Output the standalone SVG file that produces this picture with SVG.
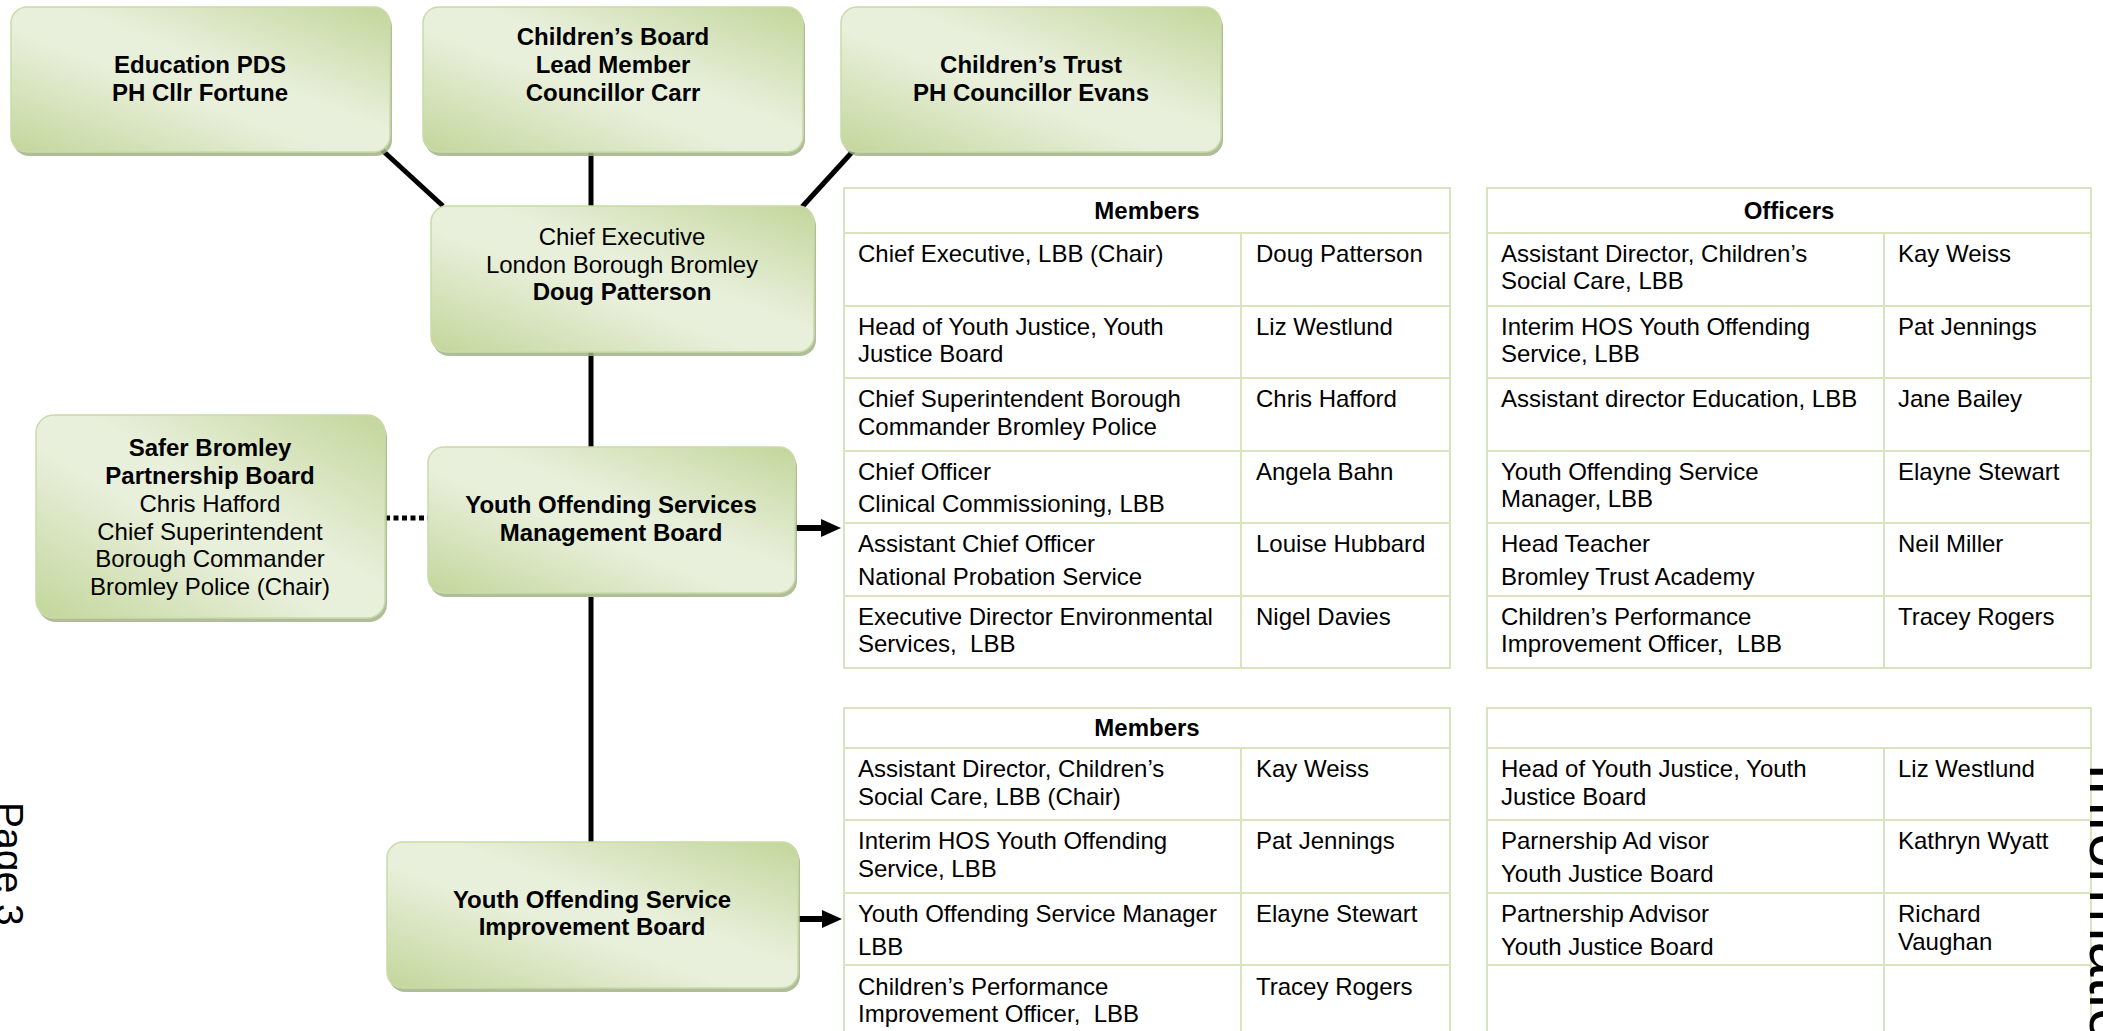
<svg xmlns="http://www.w3.org/2000/svg" width="2103" height="1031" viewBox="0 0 2103 1031">
<defs>
<linearGradient id="gr" x1="1" y1="0" x2="0" y2="1">
<stop offset="0" stop-color="#c3d69b"/>
<stop offset="0.42" stop-color="#e8efda"/>
<stop offset="0.58" stop-color="#e8efda"/>
<stop offset="1" stop-color="#c3d69b"/>
</linearGradient>
<marker id="ah" markerUnits="userSpaceOnUse" markerWidth="20" markerHeight="18" viewBox="0 0 20 18" refX="0" refY="9" orient="auto">
<path d="M0,0 L20,9 L0,18 z" fill="#000"/>
</marker>
</defs>
<style>
.t{font-family:"Liberation Sans",Arial,sans-serif;font-size:24px;fill:#000}
.b{font-weight:bold}
.c{text-anchor:middle}
.box{fill:url(#gr);stroke:#c9dba8;stroke-width:1.5}
.sh{fill:#a2b287;opacity:0.85}
.grid{stroke:#d7e4bd;stroke-width:2;fill:none}
.conn{stroke:#000;stroke-width:5;fill:none}
.arr{stroke:#000;stroke-width:6;fill:none}
</style>
<rect width="2103" height="1031" fill="#fff"/>

<g id="connectors">
<path class="conn" d="M382,150 L443,206"/>
<path class="conn" d="M591,152 L591,206"/>
<path class="conn" d="M854,150 L802,207"/>
<path class="conn" d="M591,352 L591,447"/>
<path class="conn" d="M591,597 L591,842"/>
<path class="conn" d="M385,518 L428,518" stroke-dasharray="5 3.5" stroke-width="6"/>
<path class="arr" d="M795,528 L821,528" marker-end="url(#ah)"/>
<path class="arr" d="M798,919 L822,919" marker-end="url(#ah)"/>
</g>

<g id="education-pds">
<rect class="sh" x="13" y="11" width="379" height="145" rx="16"/>
<rect class="box" x="11" y="7" width="379" height="145" rx="16"/>
<text class="t b c" x="200" y="73">Education PDS</text>
<text class="t b c" x="200" y="101">PH Cllr Fortune</text>
</g>

<g id="childrens-board">
<rect class="sh" x="425" y="11" width="380" height="145" rx="16"/>
<rect class="box" x="423" y="7" width="380" height="145" rx="16"/>
<text class="t b c" x="613" y="45">Children’s Board</text>
<text class="t b c" x="613" y="73">Lead Member</text>
<text class="t b c" x="613" y="101">Councillor Carr</text>
</g>

<g id="childrens-trust">
<rect class="sh" x="843" y="11" width="380" height="145" rx="16"/>
<rect class="box" x="841" y="7" width="380" height="145" rx="16"/>
<text class="t b c" x="1031" y="73">Children’s Trust</text>
<text class="t b c" x="1031" y="101">PH Councillor Evans</text>
</g>

<g id="chief-executive">
<rect class="sh" x="433" y="210" width="383" height="146" rx="16"/>
<rect class="box" x="431" y="206" width="383" height="146" rx="16"/>
<text class="t c" x="622" y="245">Chief Executive</text>
<text class="t c" x="622" y="273">London Borough Bromley</text>
<text class="t b c" x="622" y="300">Doug Patterson</text>
</g>

<g id="safer-bromley">
<rect class="sh" x="38" y="419" width="349" height="203" rx="18"/>
<rect class="box" x="36" y="415" width="349" height="203" rx="18"/>
<text class="t b c" x="210" y="456">Safer Bromley</text>
<text class="t b c" x="210" y="484">Partnership Board</text>
<text class="t c" x="210" y="512">Chris Hafford</text>
<text class="t c" x="210" y="540">Chief Superintendent</text>
<text class="t c" x="210" y="567">Borough Commander</text>
<text class="t c" x="210" y="595">Bromley Police (Chair)</text>
</g>

<g id="yos-management-board">
<rect class="sh" x="430" y="451" width="367" height="146" rx="16"/>
<rect class="box" x="428" y="447" width="367" height="146" rx="16"/>
<text class="t b c" x="611" y="513">Youth Offending Services</text>
<text class="t b c" x="611" y="541">Management Board</text>
</g>

<g id="yos-improvement-board">
<rect class="sh" x="389" y="846" width="411" height="146" rx="16"/>
<rect class="box" x="387" y="842" width="411" height="146" rx="16"/>
<text class="t b c" x="592" y="908">Youth Offending Service</text>
<text class="t b c" x="592" y="935">Improvement Board</text>
</g>

<g id="table-members-top">
<rect class="grid" x="844" y="188" width="606" height="480"/>
<path class="grid" d="M844,233 H1450 M844,306 H1450 M844,378 H1450 M844,451 H1450 M844,523 H1450 M844,596 H1450 M1241,233 V668"/>
<text class="t b c" x="1147" y="219">Members</text>
<text class="t" x="858" y="261.5">Chief Executive, LBB (Chair)</text>
<text class="t" x="1256" y="261.5">Doug Patterson</text>
<text class="t" x="858" y="334.5">Head of Youth Justice, Youth</text>
<text class="t" x="858" y="361.5">Justice Board</text>
<text class="t" x="1256" y="334.5">Liz Westlund</text>
<text class="t" x="858" y="406.5">Chief Superintendent Borough</text>
<text class="t" x="858" y="434.5">Commander Bromley Police</text>
<text class="t" x="1256" y="406.5">Chris Hafford</text>
<text class="t" x="858" y="479.5">Chief Officer</text>
<text class="t" x="858" y="511.5">Clinical Commissioning, LBB</text>
<text class="t" x="1256" y="479.5">Angela Bahn</text>
<text class="t" x="858" y="551.5">Assistant Chief Officer</text>
<text class="t" x="858" y="584.5">National Probation Service</text>
<text class="t" x="1256" y="551.5">Louise Hubbard</text>
<text class="t" x="858" y="624.5">Executive Director Environmental</text>
<text class="t" x="858" y="651.5" xml:space="preserve">Services,  LBB</text>
<text class="t" x="1256" y="624.5">Nigel Davies</text>
</g>

<g id="table-officers-top">
<rect class="grid" x="1487" y="188" width="604" height="480"/>
<path class="grid" d="M1487,233 H2091 M1487,306 H2091 M1487,378 H2091 M1487,451 H2091 M1487,523 H2091 M1487,596 H2091 M1884,233 V668"/>
<text class="t b c" x="1789" y="219">Officers</text>
<text class="t" x="1501" y="261.5">Assistant Director, Children’s</text>
<text class="t" x="1501" y="288.5">Social Care, LBB</text>
<text class="t" x="1898" y="261.5">Kay Weiss</text>
<text class="t" x="1501" y="334.5">Interim HOS Youth Offending</text>
<text class="t" x="1501" y="361.5">Service, LBB</text>
<text class="t" x="1898" y="334.5">Pat Jennings</text>
<text class="t" x="1501" y="406.5">Assistant director Education, LBB</text>
<text class="t" x="1898" y="406.5">Jane Bailey</text>
<text class="t" x="1501" y="479.5">Youth Offending Service</text>
<text class="t" x="1501" y="506.5">Manager, LBB</text>
<text class="t" x="1898" y="479.5">Elayne Stewart</text>
<text class="t" x="1501" y="551.5">Head Teacher</text>
<text class="t" x="1501" y="584.5">Bromley Trust Academy</text>
<text class="t" x="1898" y="551.5">Neil Miller</text>
<text class="t" x="1501" y="624.5">Children’s Performance</text>
<text class="t" x="1501" y="651.5" xml:space="preserve">Improvement Officer,  LBB</text>
<text class="t" x="1898" y="624.5">Tracey Rogers</text>
</g>

<g id="table-members-bottom">
<rect class="grid" x="844" y="708" width="606" height="340"/>
<path class="grid" d="M844,748 H1450 M844,820 H1450 M844,893 H1450 M844,965 H1450 M1241,748 V1048"/>
<text class="t b c" x="1147" y="735.5">Members</text>
<text class="t" x="858" y="776.5">Assistant Director, Children’s</text>
<text class="t" x="858" y="804.5">Social Care, LBB (Chair)</text>
<text class="t" x="1256" y="776.5">Kay Weiss</text>
<text class="t" x="858" y="848.5">Interim HOS Youth Offending</text>
<text class="t" x="858" y="876.5">Service, LBB</text>
<text class="t" x="1256" y="848.5">Pat Jennings</text>
<text class="t" x="858" y="921.5">Youth Offending Service Manager</text>
<text class="t" x="858" y="954.5">LBB</text>
<text class="t" x="1256" y="921.5">Elayne Stewart</text>
<text class="t" x="858" y="994.5">Children’s Performance</text>
<text class="t" x="858" y="1021.5" xml:space="preserve">Improvement Officer,  LBB</text>
<text class="t" x="1256" y="994.5">Tracey Rogers</text>
</g>

<g id="table-others-bottom">
<rect class="grid" x="1487" y="708" width="604" height="340"/>
<path class="grid" d="M1487,748 H2091 M1487,820 H2091 M1487,893 H2091 M1487,965 H2091 M1884,748 V1048"/>
<text class="t" x="1501" y="776.5">Head of Youth Justice, Youth</text>
<text class="t" x="1501" y="804.5">Justice Board</text>
<text class="t" x="1898" y="776.5">Liz Westlund</text>
<text class="t" x="1501" y="848.5">Parnership Ad visor</text>
<text class="t" x="1501" y="881.5">Youth Justice Board</text>
<text class="t" x="1898" y="848.5">Kathryn Wyatt</text>
<text class="t" x="1501" y="921.5">Partnership Advisor</text>
<text class="t" x="1501" y="954.5">Youth Justice Board</text>
<text class="t" x="1898" y="921.5">Richard</text>
<text class="t" x="1898" y="949.5">Vaughan</text>
</g>

<text class="t" style="font-size:39px" transform="translate(-4,802) rotate(90)">Page 3</text>
<text class="t" style="font-size:63px" transform="translate(2090,763) rotate(90)">Informatio</text>
</svg>
